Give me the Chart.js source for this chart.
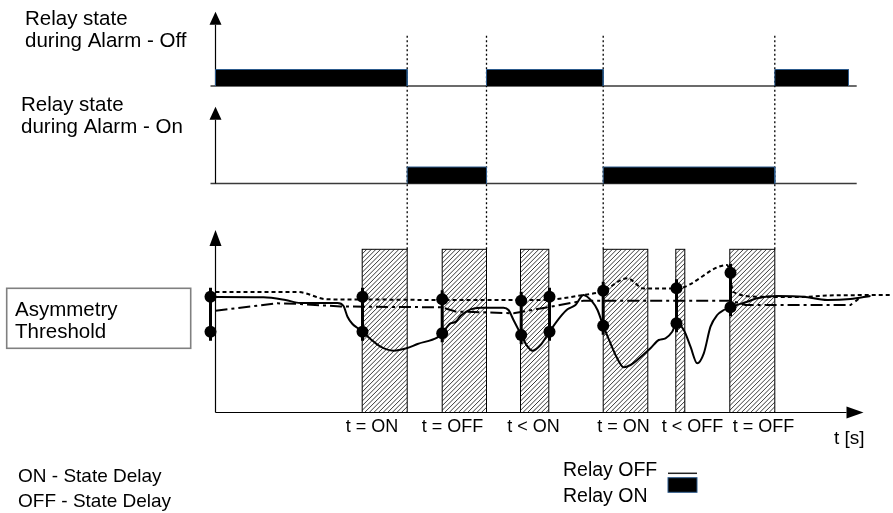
<!DOCTYPE html>
<html><head><meta charset="utf-8">
<script src="https://cdn.jsdelivr.net/npm/chart.js@4.4.1/dist/chart.umd.min.js"></script>
<style>html,body{margin:0;padding:0;background:#fff;}canvas{display:block;}</style>
</head><body>
<canvas id="c" width="893" height="513"></canvas>
<script>
// ---------- data (time t in arbitrary units, asymmetry in %) ----------
const relayOffActive = [[0,191.7],[271,387.7],[559.3,633]];      // relay energised, "during Alarm - Off"
const relayOnActive  = [[191.7,271],[387.7,559.3]];              // relay energised, "during Alarm - On"
const stateChangeTimes = [191.7,271,387.7,559.3];
const delayWindows = [[146.7,191.7],[226.7,271],[305,333.3],[387.7,432.3],[460.3,469.3],[514.3,559.3]];
const eventLabels = ['t = ON','t = OFF','t < ON','t = ON','t < OFF','t = OFF'];
const eventLabelTimes = [156.5,237,318,408,477,548];

const signalTimes  = [-5,48,70,85,122,128,132,137,142,147,155,165,178,191,202,222,226.7,235,240,245,255,265,288,293,298,305.7,311,317,325,334,345,352,360,368,376.7,382,387.7,395,401.7,408.3,415,421.7,435,443.3,450,456.7,461,468.3,475,481.7,488.3,495,501.7,508.3,515,531.7,541.7,561.7,588,611.7,635,655];
const signalValues = [57.75,57.6,56.25,54.75,54.75,53.25,47.9,44.25,42.25,40.4,36.75,32.9,30.9,32.1,34.25,37.6,39.6,44.6,45.25,48.25,51.6,52.4,52.4,51.25,46.25,38.75,33.75,30.9,33.75,40.4,47.9,51.6,53.75,58.75,55.4,51.25,43.4,34.6,27.1,22.6,23.75,26.25,32.1,36.25,37.1,40.4,44.6,41.25,32.9,24.6,29.6,42.9,48.75,51.25,52.6,55.4,57.1,58.25,57.9,56.25,56.75,58.25];

const upperTimes  = [0,82,112,147,226,325,368,387.7,411.7,428.3,461,511.7,518,542,585,612,675];
const upperValues = [60.25,60.25,56.6,56.5,56.25,56.25,58.75,60.75,67.1,62,62,73.75,60.25,57.9,57.75,58.5,58.75];

const refTimes  = [0,62,85,125,226,240,298,328,368,515,530,635,643];
const refValues = [50.9,54.6,54.25,53,52.6,50.5,49.6,52.25,55.9,55.9,53.75,53.75,56.75];

const crossTimes = [-5,147,226.7,305.7,334,387.7,461,515];
const crossHigh  = [57.9,57.9,56.6,55.9,57.9,60.9,62.1,69.9];
const crossLow   = [40.4,40.4,39.6,38.75,40.4,43.4,44.6,52.6];

// ---------- helpers ----------
const W = 893, H = 513;
function yRange(zeroPx, pxPerUnit){ return {min:(zeroPx-H)/pxPerUnit, max:zeroPx/pxPerUnit}; }
function pts(ts, vs){ return ts.map((t,i)=>({x:t,y:vs[i]})); }
function stepBars(intervals){
  const out=[];
  intervals.forEach(([a,b])=>{ out.push({x:a,y:0},{x:a,y:1},{x:b,y:1},{x:b,y:0},{x:b,y:null}); });
  return out;
}
const barExt = 4.5;
const crossBars=[], crossDots=[];
crossTimes.forEach((t,i)=>{
  crossBars.push({x:t,y:crossHigh[i]+barExt},{x:t,y:crossLow[i]-barExt},{x:t,y:null});
  crossDots.push({x:t,y:crossHigh[i]},{x:t,y:crossLow[i]});
});

const FONT = '"Liberation Sans", Arial, Helvetica, sans-serif';

function arrow(ctx,x1,y1,x2,y2,len,hw){
  const a=Math.atan2(y2-y1,x2-x1);
  const bx=x2-len*Math.cos(a), by=y2-len*Math.sin(a);
  ctx.beginPath(); ctx.moveTo(x1,y1); ctx.lineTo(bx,by); ctx.stroke();
  ctx.beginPath(); ctx.moveTo(x2,y2);
  ctx.lineTo(bx+hw*Math.sin(a), by-hw*Math.cos(a));
  ctx.lineTo(bx-hw*Math.sin(a), by+hw*Math.cos(a));
  ctx.closePath(); ctx.fill();
}

const decor = {
  id:'decor',
  beforeDatasetsDraw(chart){
    const ctx=chart.ctx, sx=chart.scales.x, sOff=chart.scales.yOff, sOn=chart.scales.yOn, sA=chart.scales.yA;
    ctx.save();
    // relay panel baselines
    ctx.strokeStyle='#3a3a3a'; ctx.lineWidth=1.5;
    [sOff,sOn].forEach(s=>{
      const y=s.getPixelForValue(0);
      ctx.beginPath(); ctx.moveTo(sx.getPixelForValue(-5),y); ctx.lineTo(sx.getPixelForValue(641.2),y); ctx.stroke();
    });
    // vertical axes with arrows
    ctx.strokeStyle='#000'; ctx.fillStyle='#000'; ctx.lineWidth=1.2;
    const x0=sx.getPixelForValue(0);
    arrow(ctx,x0,sOff.getPixelForValue(0),x0,sOff.getPixelForValue(4.5),13,6);
    arrow(ctx,x0,sOn.getPixelForValue(0),x0,sOn.getPixelForValue(4.65),13,6);
    arrow(ctx,x0,sA.getPixelForValue(0),x0,sA.getPixelForValue(91.25),16,6);
    arrow(ctx,x0,sA.getPixelForValue(0),sx.getPixelForValue(648),sA.getPixelForValue(0),17,6);
    // delay windows (hatched)
    const top=sA.getPixelForValue(81.6), bot=sA.getPixelForValue(0);
    delayWindows.forEach(([a,b])=>{
      const l=sx.getPixelForValue(a), r=sx.getPixelForValue(b), h=bot-top;
      ctx.save();
      ctx.beginPath(); ctx.rect(l,top,r-l,h); ctx.fillStyle='#fff'; ctx.fill(); ctx.clip();
      ctx.strokeStyle='#222'; ctx.lineWidth=0.9; ctx.beginPath();
      for(let s=l-h; s<r+5; s+=4.6){ ctx.moveTo(s,bot); ctx.lineTo(s+h,top); }
      ctx.stroke(); ctx.restore();
      ctx.strokeStyle='#000'; ctx.lineWidth=1; ctx.strokeRect(l,top,r-l,h);
    });
    // dotted state-change lines
    ctx.strokeStyle='#000'; ctx.lineWidth=1.3; ctx.setLineDash([2,2.5]);
    stateChangeTimes.forEach(t=>{
      const x=sx.getPixelForValue(t);
      ctx.beginPath(); ctx.moveTo(x,sOff.getPixelForValue(3.05)); ctx.lineTo(x,top); ctx.stroke();
    });
    ctx.setLineDash([]);
    ctx.restore();
  },
  afterDraw(chart){
    const ctx=chart.ctx, sx=chart.scales.x;
    ctx.save();
    ctx.fillStyle='#000'; ctx.textBaseline='alphabetic'; ctx.textAlign='left';
    ctx.font='20.5px '+FONT;
    ctx.fillText('Relay state',25,25);
    ctx.fillText('during Alarm - Off',25,47);
    ctx.fillText('Relay state',21,111);
    ctx.fillText('during Alarm - On',21,133);
    // threshold box
    ctx.strokeStyle='#808080'; ctx.lineWidth=1.6;
    ctx.strokeRect(6.7,288.3,184,60);
    ctx.fillText('Asymmetry',15,316);
    ctx.fillText('Threshold',15,338);
    // event labels
    ctx.font='18px '+FONT; ctx.textAlign='center';
    eventLabels.forEach((s,i)=>ctx.fillText(s,sx.getPixelForValue(eventLabelTimes[i]),431.5));
    ctx.textAlign='left'; ctx.font='19px '+FONT;
    ctx.fillText('t [s]',834,444);
    ctx.fillText('ON - State Delay',18,482);
    ctx.fillText('OFF - State Delay',18,507);
    ctx.font='19.5px '+FONT;
    ctx.fillText('Relay OFF',563,475.5);
    ctx.fillText('Relay ON',563,501.5);
    // legend swatches
    ctx.strokeStyle='#222'; ctx.lineWidth=1.5;
    ctx.beginPath(); ctx.moveTo(668,473.3); ctx.lineTo(697,473.3); ctx.stroke();
    ctx.fillStyle='#000'; ctx.fillRect(668,477.7,29,14.6);
    ctx.strokeStyle='#2c5a8c'; ctx.lineWidth=1; ctx.strokeRect(668,477.7,29,14.6);
    ctx.restore();
  }
};

new Chart(document.getElementById('c'), {
  type:'line',
  data:{ datasets:[
    {data:crossDots, yAxisID:'yA', showLine:false, pointRadius:6, pointBackgroundColor:'#000', pointBorderColor:'#000', pointBorderWidth:0},
    {data:crossBars, yAxisID:'yA', borderColor:'#000', borderWidth:3, pointRadius:0, spanGaps:false, borderCapStyle:'butt'},
    {data:pts(signalTimes,signalValues), yAxisID:'yA', borderColor:'#000', borderWidth:2, pointRadius:0, cubicInterpolationMode:'monotone'},
    {data:pts(upperTimes,upperValues), yAxisID:'yA', borderColor:'#000', borderWidth:2, borderDash:[4,3], pointRadius:0, cubicInterpolationMode:'monotone'},
    {data:pts(refTimes,refValues), yAxisID:'yA', borderColor:'#000', borderWidth:2, borderDash:[12,4,3,4], pointRadius:0, tension:0},
    {data:stepBars(relayOffActive), yAxisID:'yOff', borderColor:'#2c5a8c', borderWidth:1, backgroundColor:'#000', fill:'origin', pointRadius:0, tension:0, spanGaps:false},
    {data:stepBars(relayOnActive), yAxisID:'yOn', borderColor:'#2c5a8c', borderWidth:1, backgroundColor:'#000', fill:'origin', pointRadius:0, tension:0, spanGaps:false}
  ]},
  options:{
    responsive:false, maintainAspectRatio:false, animation:false, devicePixelRatio:1, events:[],
    layout:{padding:0, autoPadding:false},
    plugins:{legend:{display:false}, tooltip:{enabled:false}, title:{display:false}},
    scales:{
      x:{type:'linear', display:false, min:-215.5, max:677.5},
      yOff:{type:'linear', display:false, ...yRange(86,16.5)},
      yOn:{type:'linear', display:false, ...yRange(183.5,16.5)},
      yA:{type:'linear', display:false, ...yRange(412.5,2)}
    }
  },
  plugins:[decor]
});
</script>
</body></html>
